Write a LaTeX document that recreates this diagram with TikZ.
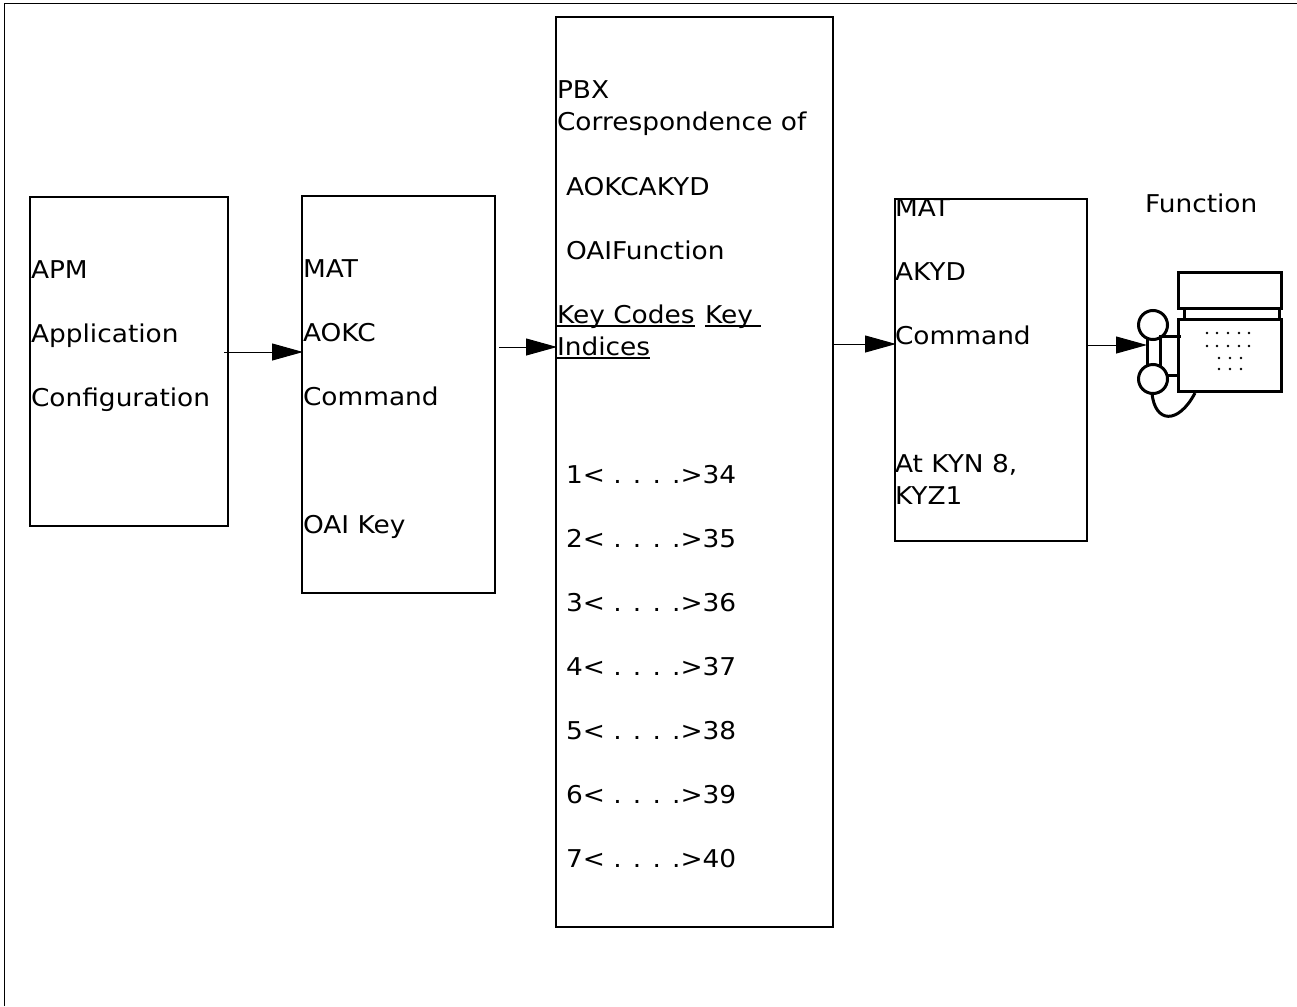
\documentclass[tikz,border=0pt]{standalone}
\usepackage{fontspec}
\setmainfont[FakeStretch=1.078]{DejaVu Sans}
\usetikzlibrary{arrows.meta}
\tikzset{
  x=1pt,y=-1pt,
  boxn/.style={draw=black,line width=2.5pt,rectangle,inner sep=0pt,outer sep=0pt,anchor=north west},
  lbl/.style={anchor=base west,inner sep=0pt,outer sep=0pt,font=\fontsize{24.5}{30}\selectfont},
  conn/.style={line width=1pt,-{Triangle[length=31pt,width=17pt]},shorten >=-1pt},
  phone/.style={line width=3pt,draw=black},
  ul/.style={line width=2pt},
  hole/.style={circle,fill=black,inner sep=0pt,minimum size=2.6pt}
}
\newcommand{\bx}[5]{\node[boxn,minimum width=#4pt-#2pt,minimum height=#5pt-#3pt] (#1) at (#2,#3) {};}
\begin{document}
\begin{tikzpicture}
\useasboundingbox (0,0) rectangle (1297,1006);
\draw[line width=1.5pt] (4.5,1006) -- (4.5,3.5) -- (1297,3.5);
\bx{apm}{30}{197}{228}{526}
\bx{aokc}{302}{196}{495}{593}
\bx{pbx}{556}{17}{833}{927}
\bx{akyd}{895}{199}{1087}{541}
% APM
\node[lbl] (a1) at (31,278) {APM};
\node[lbl] (a2) at (31,342) {Application};
\node[lbl] (a3) at (31,406) {Configuration};
% AOKC
\node[lbl] (b1) at (303,277) {MAT};
\node[lbl] (b2) at (303,341) {AOKC};
\node[lbl] (b3) at (303,405) {Command};
\node[lbl] (b4) at (303,533) {OAI Key};
% PBX
\node[lbl] (c1) at (557,99) {PBX};
\node[lbl] (c2) at (557,131) {Correspondence of};
\node[lbl] (c3) at (566,195) {AOKCAKYD};
\node[lbl] (c4) at (566,259) {OAIFunction};
\node[lbl] (c5) at (557,323) {Key Codes};
\node[lbl] (c6) at (705,323) {\hbox{Key\ }};
\node[lbl] (c7) at (557,355) {Indices};
\draw[ul] ([yshift=-2.5pt]c5.base west) -- ([yshift=-2.5pt]c5.base east);
\draw[ul] ([yshift=-2.5pt]c6.base west) -- ([yshift=-2.5pt]c6.base east);
\draw[ul] ([yshift=-2.5pt]c7.base west) -- ([yshift=-2.5pt]c7.base east);
\node[lbl] (k1) at (566,483) {1< . . . .>34};
\node[lbl] (k2) at (566,547) {2< . . . .>35};
\node[lbl] (k3) at (566,611) {3< . . . .>36};
\node[lbl] (k4) at (566,675) {4< . . . .>37};
\node[lbl] (k5) at (566,739) {5< . . . .>38};
\node[lbl] (k6) at (566,803) {6< . . . .>39};
\node[lbl] (k7) at (566,867) {7< . . . .>40};
% AKYD
\node[lbl] (d1) at (895,216) {MAT};
\node[lbl] (d2) at (895,280) {AKYD};
\node[lbl] (d3) at (895,344) {Command};
\node[lbl] (d4) at (895,472) {At KYN 8,};
\node[lbl] (d5) at (895,504) {KYZ1};
\node[lbl] (f1) at (1145,212) {Function};
% phone
\draw[phone] (1178,272) rectangle (1281,308);
\node[boxn,line width=3pt,minimum width=103pt,minimum height=72pt] (body) at (1178,319) {};
\draw[phone] (1184.5,308) -- (1184.5,319) (1279,308) -- (1279,319);
\node[circle,phone,fill=none,minimum size=29pt,inner sep=0pt] (hu) at (1153,325) {};
\node[circle,phone,fill=none,minimum size=29pt,inner sep=0pt] (hl) at (1153,379) {};
\draw[phone] (1147,338) -- (1147,367) (1160,367) -- (1160,336) -- (1181,336);
\draw[phone] (1167,375) -- (1178,375);
\draw[phone] (1152,393.5) .. controls (1155,423) and (1178,425) .. (1195,393);
\foreach \x in {1207,1217,1228,1239,1249} {
  \node[hole] at (\x,333) {};
  \node[hole] at (\x,346) {};
}
\foreach \x in {1219,1230,1241} {
  \node[hole] at (\x,358) {};
  \node[hole] at (\x,369) {};
}
% connectors
\coordinate (s1) at (224,352);
\coordinate (s2) at (499,347);
\coordinate (s3) at (834,344);
\coordinate (s4) at (1088,345);
\coordinate (hm) at (1146,345);
\draw[conn] (s1) -- (aokc.west |- s1);
\draw[conn] (s2) -- (pbx.west |- s2);
\draw[conn] (s3) -- (akyd.west |- s3);
\draw[conn] (s4) -- (hm);
\end{tikzpicture}
\end{document}
